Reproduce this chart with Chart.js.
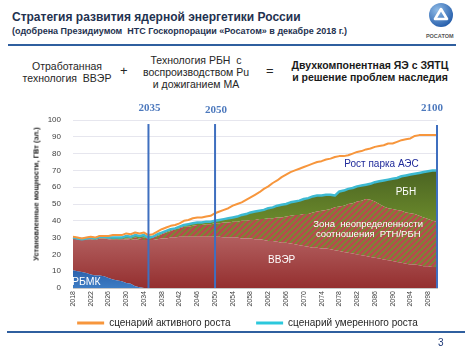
<!DOCTYPE html>
<html>
<head>
<meta charset="utf-8">
<script src="https://cdn.jsdelivr.net/npm/chart.js@4.4.0/dist/chart.umd.min.js"></script>
<style>
body{margin:0;width:471px;height:353px;background:#fff;position:relative;overflow:hidden;font-family:"Liberation Sans",Arial,sans-serif;}
.t{position:absolute;white-space:pre;}
.c{text-align:center;}
#graf{position:absolute;left:24px;top:95px;}
</style>
</head>
<body>
<div class="t" style="left:12px;top:10px;font:bold 12px/14px 'Liberation Sans';color:#1f3250;">Стратегия развития ядерной энергетики России</div>
<div class="t" style="left:12px;top:26px;font:bold 9px/11px 'Liberation Sans';color:#1f3250;">(одобрена Президиумом  НТС Госкорпорации «Росатом» в декабре 2018 г.)</div>
<div style="position:absolute;left:8px;top:44px;width:448px;height:2px;background:#2f5f9f;"></div>
<svg style="position:absolute;left:428px;top:2px;" width="26" height="26" viewBox="0 0 26 26">
  <defs><radialGradient id="lg" cx="0.35" cy="0.3" r="0.8"><stop offset="0" stop-color="#8fbbe6"/><stop offset="1" stop-color="#1d56a6"/></radialGradient></defs>
  <circle cx="13" cy="13" r="12" fill="url(#lg)"/>
  <path d="M13 7 L19 17 L7 17 Z" fill="none" stroke="#fff" stroke-width="2.6" stroke-linejoin="round"/>
</svg>
<div class="t" style="left:426px;top:33px;font:bold 5.5px/7px 'Liberation Sans';color:#555;">РОСАТОМ</div>

<div class="t c" style="left:-33px;width:200px;top:60px;font:10.5px/12px 'Liberation Sans';color:#262626;">Отработанная
технология  ВВЭР</div>
<div class="t" style="left:120px;top:64px;font:13px/14px 'Liberation Sans';color:#262626;">+</div>
<div class="t c" style="left:96px;width:200px;top:53.5px;font:10.5px/12px 'Liberation Sans';color:#262626;">Технология РБН  с
воспроизводством Pu
и дожиганием МА</div>
<div class="t" style="left:266px;top:64px;font:13px/14px 'Liberation Sans';color:#262626;">=</div>
<div class="t c" style="left:270px;width:200px;top:58.5px;font:bold 10.5px/12.5px 'Liberation Sans';color:#1a1a1a;">Двухкомпонентная ЯЭ с ЗЯТЦ
и решение проблем наследия</div>

<canvas id="graf" width="447" height="243"></canvas>
<div class="t" style="left:36px;top:194px;transform:translate(-50%,-50%) rotate(-90deg);font:bold 7.5px/9px 'Liberation Sans';color:#1a1a1a;">Установленные мощности, ГВт (эл.)</div>

<div style="position:absolute;left:7px;top:331px;width:458px;height:1.5px;background:#2f5f9f;"></div>
<div class="t" style="left:438px;top:337px;font:10px/12px 'Liberation Sans';color:#1f3a78;">3</div>

<script>
var years = [2018,2019,2020,2021,2022,2023,2024,2025,2026,2027,
             2028,2029,2030,2031,2032,2033,2034,2035,2036,2037,
             2038,2039,2040,2041,2042,2043,2044,2045,2046,2047,
             2048,2049,2050,2051,2052,2053,2054,2055,2056,2057,
             2058,2059,2060,2061,2062,2063,2064,2065,2066,2067,
             2068,2069,2070,2071,2072,2073,2074,2075,2076,2077,
             2078,2079,2080,2081,2082,2083,2084,2085,2086,2087,
             2088,2089,2090,2091,2092,2093,2094,2095,2096,2097,
             2098,2099,2100];

// РБМК (ГВт)
var rbmk = [10.5,10,9.5,9,8,7.5,7.5,7,6,5,
            4.5,4,3,2.5,1,0.5,0,0,0,0,
            0,0,0,0,0,0,0,0,0,0,
            0,0,0,0,0,0,0,0,0,0,
            0,0,0,0,0,0,0,0,0,0,
            0,0,0,0,0,0,0,0,0,0,
            0,0,0,0,0,0,0,0,0,0,
            0,0,0,0,0,0,0,0,0,0,
            0,0,0];

// верх области ВВЭР (РБМК + ВВЭР)
var vverTop = [29.5,29,28.5,29,29,28.5,29.5,29.5,29,28.5,
               28.5,28.5,29,28.5,29,28.5,28.5,28.5,28.5,29,
               29.5,29.5,30,30,30.5,30.5,30.5,30.5,30.5,30.5,
               30.5,30.5,30.5,30.5,30,30,30,30,29.5,29.5,
               29.5,29,29,28.5,28,28,27.5,27,27,26.5,
               26,25.5,25,24.5,24,24,23.5,23.5,23,22.5,
               22,21.5,21,20.5,20,19.5,19,18.5,18,17.5,
               17,16.5,16,15.5,15,14.5,14,14,13.5,13,
               13,12.5,12.5];

// верх зоны неопределенности РТН/РБН
var zoneTop = [29.5,29,28.5,29,29,28.5,29.5,29.5,29.5,29,
               29,29,29.5,29.5,30,29.5,30,29.5,30,31,
               32,33,34,35,35.5,36.5,36.5,37,37.5,37.5,
               38,38,38.5,38.5,39,39,39.5,39.5,40,40,
               40.5,40.5,41,41,41.5,41.5,42,42,42.5,43,
               43.5,43.5,44,44,45,45.5,46,46.5,47,48,
               48.5,49,50,50.5,51.5,52,53,52.5,51.5,50,
               48.5,47.5,47,46.5,46,45,44.5,44,43,42,
               41,40,39.5];

// сценарий умеренного роста (верх РБН)
var moderate = [30,29.5,29,29.5,30,29.5,30.5,30.5,30,30,
                30,30,31,30.5,31.5,31,31.5,30,30.5,32,
                33,34,35,35.5,36.5,37.5,38,38.5,39,39,
                39.5,39.5,40,40.5,41,41.5,42,42.5,43.5,44,
                45,45.5,46,46.5,47.5,48,49,49.5,50,51,
                51.5,52,53,53.5,54.5,55,55,55.5,55.5,55,
                57.5,58,59,59.5,60.5,61,61.5,62,63,63.5,
                64,64.5,65,65.5,66.5,67,67.5,68,68.5,69,
                69.5,70,70];

// сценарий активного роста
var active = [30.5,30,29.5,30,30.5,30,31,31,31,31.5,
              31.5,31.5,32.5,32,33,32.5,33,31.5,32,33.5,
              35,36,37,37.5,38.5,40,40.5,41.5,42,42,
              42.5,43,44.5,45.5,46.5,47.5,49,50,51,52.5,
              54,55.5,57,59,60.5,62.5,64,66,67.5,69,
              70,71,72,73,74,75,75.5,76.5,77,78,
              78.5,78.5,79,80,81,81.5,82.5,83,84,84.5,
              85,86,86,87,88,88.5,89,90.5,91,91,
              91,91,91];

var milestones = [2035, 2050, 2100];

function makeHatch(){
    var c = document.createElement("canvas");
    c.width = 6; c.height = 6;
    var g = c.getContext("2d");
    g.fillStyle = "#b54c4c";
    g.fillRect(0,0,6,6);
    g.strokeStyle = "#6e9330";
    g.lineWidth = 1.5;
    g.beginPath();
    g.moveTo(-1,7); g.lineTo(7,-1);
    g.moveTo(-4,4); g.lineTo(4,-4);
    g.moveTo(2,10); g.lineTo(10,2);
    g.stroke();
    return g.createPattern(c, "repeat");
}

function gradiente(vTop, cTop, vBot, cBot){
    return function(context){
        var ch = context.chart;
        if(!ch.chartArea) return cTop;
        var y = ch.scales.y;
        var g = ch.ctx.createLinearGradient(0, y.getPixelForValue(vTop), 0, y.getPixelForValue(vBot));
        g.addColorStop(0, cTop);
        g.addColorStop(1, cBot);
        return g;
    };
}

var etiquetas = [
    {text:"РБМК", year:2021, v:3.7, color:"#ffffff", font:"10.5px 'Liberation Sans'"},
    {text:"ВВЭР", year:2065, v:16.7, color:"#ffffff", font:"10px 'Liberation Sans'"},
    {text:"Зона  неопределенности", year:2084.5, v:38.1, color:"#ffffff", font:"9.5px 'Liberation Sans'"},
    {text:"соотношения  РТН/РБН", year:2084.5, v:32.1, color:"#ffffff", font:"9.5px 'Liberation Sans'"},
    {text:"РБН", year:2093, v:57.1, color:"#ffffff", font:"10px 'Liberation Sans'"},
    {text:"Рост парка АЭС", year:2087.5, v:73.8, color:"#1f2a9a", font:"10px 'Liberation Sans'"}
];

var decor = {
    id: "decor",
    afterDatasetsDraw: function(chart){
        var ctx = chart.ctx, x = chart.scales.x, y = chart.scales.y;
        ctx.save();
        etiquetas.forEach(function(e){
            ctx.font = e.font;
            ctx.fillStyle = e.color;
            ctx.textAlign = "center";
            ctx.textBaseline = "middle";
            ctx.fillText(e.text, x.getPixelForValue(e.year - years[0]), y.getPixelForValue(e.v));
        });
        milestones.forEach(function(m){
            var px = x.getPixelForValue(years.indexOf(m));
            ctx.strokeStyle = "#3f6fbf";
            ctx.lineWidth = 2;
            ctx.beginPath();
            ctx.moveTo(px, y.getPixelForValue(m == 2100 ? 97 : 97.6));
            ctx.lineTo(px, y.getPixelForValue(0));
            ctx.stroke();
            ctx.font = "bold 11px 'Liberation Serif'";
            ctx.fillStyle = "#4d79bd";
            ctx.textBaseline = "middle";
            if(m == 2100){
                ctx.textAlign = "right";
                ctx.fillText(String(m), px + 6, y.getPixelForValue(107));
            } else {
                ctx.textAlign = "center";
                ctx.fillText(String(m), px + 1, y.getPixelForValue(m == 2050 ? 106 : 107));
            }
        });
        ctx.restore();
    }
};

Chart.defaults.font.family = "'Liberation Sans', Arial, sans-serif";

var canva = document.getElementById("graf").getContext("2d");
var grafica = new Chart(canva, {
    type: "line",
    data: {
        labels: years,
        datasets: [{
            label: "РБМК",
            data: rbmk,
            fill: "origin",
            backgroundColor: gradiente(11, "#2b60aa", 0, "#3d7cc4"),
            borderWidth: 0,
            order: 1
        },{
            label: "ВВЭР",
            data: vverTop,
            fill: "-1",
            backgroundColor: gradiente(31, "#b36060", 0, "#942f2f"),
            borderWidth: 0,
            order: 1
        },{
            label: "Зона неопределенности",
            data: zoneTop,
            fill: "-1",
            backgroundColor: makeHatch(),
            borderWidth: 0,
            order: 1
        },{
            label: "РБН",
            data: moderate,
            fill: "-1",
            backgroundColor: gradiente(70, "#4b6422", 35, "#6f8f2d"),
            borderWidth: 0,
            order: 1
        },{
            label: "сценарий активного роста",
            data: active,
            fill: false,
            borderColor: "#f7963c",
            backgroundColor: "#f7963c",
            borderWidth: 2,
            order: 0
        },{
            label: "сценарий умеренного роста",
            data: moderate,
            fill: false,
            borderColor: "#3dbad2",
            backgroundColor: "#2cc8dc",
            borderWidth: 2.5,
            order: 0
        }]
    },
    options: {
        responsive: false,
        animation: false,
        devicePixelRatio: 1,
        layout: { padding: { top: 25, left: 0, right: 0, bottom: 0 } },
        elements: { point: { radius: 0 }, line: { tension: 0, borderJoinStyle: "round" } },
        plugins: {
            tooltip: { enabled: false },
            legend: {
                position: "bottom",
                labels: {
                    boxWidth: 27,
                    boxHeight: 3,
                    padding: 9,
                    color: "#262626",
                    font: { size: 10 },
                    generateLabels: function(chart){
                        return Chart.defaults.plugins.legend.labels.generateLabels(chart)
                            .filter(function(l){ return l.datasetIndex >= 4; })
                            .map(function(l){
                                l.lineWidth = 0;
                                if(l.datasetIndex == 4) l.text = l.text + "      ";
                                return l;
                            });
                    }
                }
            }
        },
        scales: {
            x: {
                type: "category",
                offset: false,
                grid: { display: false, drawTicks: false },
                border: { display: true, color: "#c8c8c8" },
                ticks: {
                    autoSkip: false,
                    maxRotation: 90,
                    minRotation: 90,
                    padding: 3,
                    color: "#404040",
                    font: { size: 7 },
                    callback: function(v, i){ return i % 4 === 0 ? String(years[i]) : ""; }
                },
                afterFit: function(s){ s.height = 21; }
            },
            y: {
                min: 0,
                max: 100,
                grid: { color: "#e6e6ee", drawTicks: false },
                border: { display: false },
                ticks: { stepSize: 10, padding: 12, color: "#404040", font: { size: 8 } },
                afterFit: function(s){ s.width = 49; }
            },
            yR: {
                position: "right",
                grid: { display: false },
                border: { display: false },
                ticks: { display: false },
                afterFit: function(s){ s.width = 34; }
            }
        }
    },
    plugins: [decor]
});
</script>
</body>
</html>
